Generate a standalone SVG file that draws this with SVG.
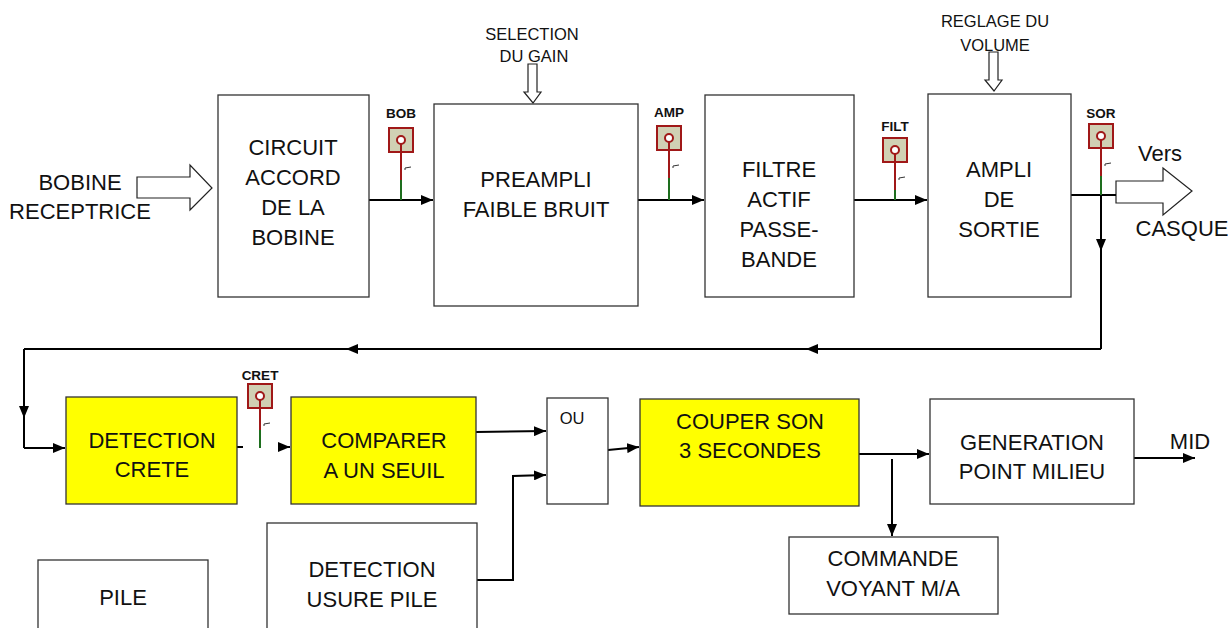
<svg xmlns="http://www.w3.org/2000/svg" width="1228" height="628" viewBox="0 0 1228 628">
  <defs>
    <style>
      .box { fill: #ffffff; stroke: #333333; stroke-width: 1.3; }
      .hl { fill: #ffff00; stroke: #333333; stroke-width: 1.3; }
      .t { font-family: "Liberation Sans", Arial, sans-serif; font-size: 22px; fill: #111111; text-anchor: middle; }
      .ts { font-family: "Liberation Sans", Arial, sans-serif; font-size: 16.5px; fill: #111111; text-anchor: middle; }
      .tp { font-family: "Liberation Sans", Arial, sans-serif; font-size: 13.5px; font-weight: bold; fill: #111111; text-anchor: middle; }
      .wire { fill: none; stroke: #000000; stroke-width: 2; }
      .big { fill: #ffffff; stroke: #222222; stroke-width: 1.2; }
      .pad { fill: #d0d0b4; stroke: #a01818; stroke-width: 2; }
      .pin { fill: #ffffff; stroke: #a01818; stroke-width: 2; }
      .red { stroke: #a01818; stroke-width: 2; }
      .grn { stroke: #1e6e1e; stroke-width: 2; }
      .tick { fill: none; stroke: #333333; stroke-width: 1; }
    </style>
    <marker id="ah" viewBox="0 0 12 10" refX="12" refY="5" markerWidth="12" markerHeight="10" orient="auto" markerUnits="userSpaceOnUse">
      <path d="M0,0 L12,5 L0,10 z" fill="#000000"/>
    </marker>
    <marker id="am" viewBox="0 0 12 10" refX="6" refY="5" markerWidth="12" markerHeight="10" orient="auto" markerUnits="userSpaceOnUse">
      <path d="M0,0 L12,5 L0,10 z" fill="#000000"/>
    </marker>
    <!-- test point: pad, pin ring, red lead, small marker tick -->
    <g id="testpoint">
      <rect class="pad" x="-12" y="-12" width="24" height="24"/>
      <line class="red" x1="0" y1="4" x2="0" y2="40"/>
      <circle class="pin" cx="0" cy="0" r="4"/>
      <path class="tick" d="M4,28 L10,27 M4,28 L4,30"/>
    </g>
  </defs>

  <!-- connectors -->
  <g id="connectors">
    <!-- input coil arrow -->
    <path class="big" d="M137,177 L190,177 L190,165 L212,188 L190,210 L190,198 L137,198 Z"/>
    <!-- gain / volume control arrows -->
    <path class="big" d="M528,64 L537,64 L537,92 L541,92 L533,103 L524,92 L528,92 Z"/>
    <path class="big" d="M989,52 L998,52 L998,80 L1002,80 L994,91 L985,80 L989,80 Z"/>
    <!-- headphone output arrow -->
    <path class="big" d="M1116,181 L1163,181 L1163,168 L1192,191 L1163,215 L1163,203 L1116,203 Z"/>

    <line class="wire" x1="369" y1="200" x2="433" y2="200" marker-end="url(#ah)"/>
    <line class="wire" x1="638" y1="200" x2="704" y2="200" marker-end="url(#ah)"/>
    <line class="wire" x1="854" y1="200" x2="927" y2="200" marker-end="url(#ah)"/>
    <line class="wire" x1="1071" y1="195" x2="1116" y2="195"/>

    <!-- feedback loop from output amp to peak detector -->
    <line class="wire" x1="1101" y1="195" x2="1101" y2="245" marker-end="url(#am)"/>
    <line class="wire" x1="1101" y1="245" x2="1101" y2="349"/>
    <line class="wire" x1="1101" y1="349" x2="812" y2="349" marker-end="url(#am)"/>
    <line class="wire" x1="812" y1="349" x2="352" y2="349" marker-end="url(#am)"/>
    <line class="wire" x1="352" y1="349" x2="24" y2="349"/>
    <line class="wire" x1="24" y1="349" x2="24" y2="412" marker-end="url(#am)"/>
    <line class="wire" x1="24" y1="412" x2="24" y2="448"/>
    <line class="wire" x1="24" y1="448" x2="65" y2="448" marker-end="url(#ah)"/>

    <!-- peak detector to comparator -->
    <line class="wire" x1="237" y1="447" x2="243" y2="447"/>
    <line class="wire" x1="280" y1="447" x2="290" y2="447" marker-end="url(#ah)"/>

    <line class="wire" x1="476" y1="432" x2="546" y2="431" marker-end="url(#ah)"/>
    <polyline class="wire" points="477,580 513,580 513,476 546,475" marker-end="url(#ah)"/>
    <line class="wire" x1="608" y1="450" x2="639" y2="447" marker-end="url(#ah)"/>
    <line class="wire" x1="859" y1="454" x2="929" y2="454" marker-end="url(#ah)"/>
    <line class="wire" x1="892" y1="459" x2="892" y2="536" marker-end="url(#ah)"/>
    <line class="wire" x1="1134" y1="458" x2="1195" y2="458" marker-end="url(#ah)"/>
  </g>

  <!-- test points -->
  <g id="tp-bob">
    <text class="tp" x="401" y="118">BOB</text>
    <use href="#testpoint" x="401" y="140"/>
    <line class="grn" x1="401" y1="180" x2="401" y2="200"/>
  </g>
  <g id="tp-amp">
    <text class="tp" x="669" y="117">AMP</text>
    <use href="#testpoint" x="669" y="138"/>
    <line class="grn" x1="669" y1="178" x2="669" y2="200"/>
  </g>
  <g id="tp-filt">
    <text class="tp" x="895" y="131">FILT</text>
    <use href="#testpoint" x="895" y="150"/>
    <line class="grn" x1="895" y1="190" x2="895" y2="200"/>
  </g>
  <g id="tp-sor">
    <text class="tp" x="1101" y="118">SOR</text>
    <use href="#testpoint" x="1101" y="136"/>
    <line class="grn" x1="1101" y1="176" x2="1101" y2="195"/>
  </g>
  <g id="tp-cret">
    <text class="tp" x="260" y="380">CRET</text>
    <use href="#testpoint" x="260" y="396"/>
    <line class="grn" x1="260" y1="430" x2="260" y2="448"/>
  </g>

  <!-- free labels -->
  <g id="lbl-bobine">
    <text class="t" x="80" y="190">BOBINE</text>
    <text class="t" x="80" y="219">RECEPTRICE</text>
  </g>
  <g id="lbl-gain">
    <text class="ts" x="532" y="40">SELECTION</text>
    <text class="ts" x="534" y="62">DU GAIN</text>
  </g>
  <g id="lbl-volume">
    <text class="ts" x="995" y="27">REGLAGE DU</text>
    <text class="ts" x="995" y="51">VOLUME</text>
  </g>
  <g id="lbl-casque">
    <text class="t" x="1160" y="161">Vers</text>
    <text class="t" x="1182" y="236">CASQUE</text>
  </g>
  <g id="lbl-mid">
    <text class="t" x="1190" y="449">MID</text>
  </g>

  <!-- blocks -->
  <g id="n-accord">
    <rect class="box" x="218" y="95" width="151" height="202"/>
    <text class="t" x="293" y="155">CIRCUIT</text>
    <text class="t" x="293" y="185">ACCORD</text>
    <text class="t" x="293" y="215">DE LA</text>
    <text class="t" x="293" y="245">BOBINE</text>
  </g>
  <g id="n-preampli">
    <rect class="box" x="434" y="104" width="204" height="202"/>
    <text class="t" x="536" y="187">PREAMPLI</text>
    <text class="t" x="536" y="217">FAIBLE BRUIT</text>
  </g>
  <g id="n-filtre">
    <rect class="box" x="705" y="95" width="149" height="202"/>
    <text class="t" x="779" y="177">FILTRE</text>
    <text class="t" x="779" y="207">ACTIF</text>
    <text class="t" x="779" y="237">PASSE-</text>
    <text class="t" x="779" y="267">BANDE</text>
  </g>
  <g id="n-ampli">
    <rect class="box" x="928" y="94" width="143" height="203"/>
    <text class="t" x="999" y="177">AMPLI</text>
    <text class="t" x="999" y="207">DE</text>
    <text class="t" x="999" y="237">SORTIE</text>
  </g>
  <g id="n-crete">
    <rect class="hl" x="66" y="397" width="171" height="107"/>
    <text class="t" x="152" y="448">DETECTION</text>
    <text class="t" x="152" y="477">CRETE</text>
  </g>
  <g id="n-comparer">
    <rect class="hl" x="291" y="397" width="185" height="107"/>
    <text class="t" x="384" y="448">COMPARER</text>
    <text class="t" x="384" y="478">A UN SEUIL</text>
  </g>
  <g id="n-ou">
    <rect class="box" x="547" y="398" width="61" height="106"/>
    <text class="ts" x="572" y="424">OU</text>
  </g>
  <g id="n-couper">
    <rect class="hl" x="640" y="399" width="219" height="107"/>
    <text class="t" x="750" y="429">COUPER SON</text>
    <text class="t" x="750" y="458">3 SECONDES</text>
  </g>
  <g id="n-generation">
    <rect class="box" x="930" y="399" width="204" height="105"/>
    <text class="t" x="1032" y="450">GENERATION</text>
    <text class="t" x="1032" y="479">POINT MILIEU</text>
  </g>
  <g id="n-voyant">
    <rect class="box" x="789" y="537" width="209" height="77"/>
    <text class="t" x="893" y="566">COMMANDE</text>
    <text class="t" x="893" y="596">VOYANT M/A</text>
  </g>
  <g id="n-pile">
    <rect class="box" x="38" y="560" width="170" height="80"/>
    <text class="t" x="123" y="605">PILE</text>
  </g>
  <g id="n-usure">
    <rect class="box" x="267" y="523" width="210" height="117"/>
    <text class="t" x="372" y="577">DETECTION</text>
    <text class="t" x="372" y="607">USURE PILE</text>
  </g>
</svg>
